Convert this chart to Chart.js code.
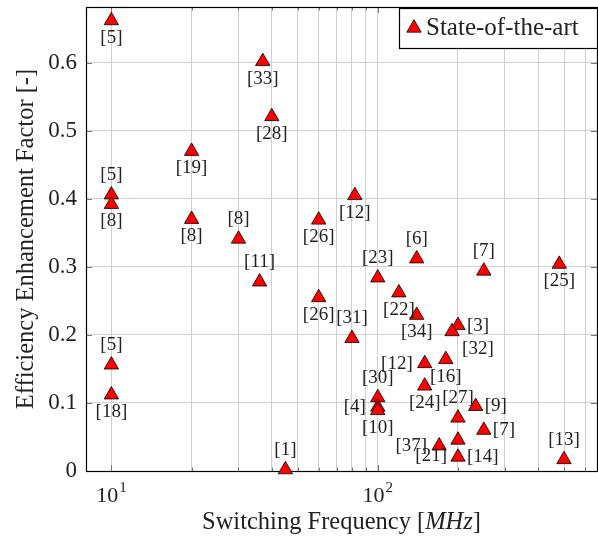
<!DOCTYPE html>
<html>
<head>
<meta charset="utf-8">
<script src="https://cdn.jsdelivr.net/npm/chart.js@4.4.0/dist/chart.umd.min.js"></script>
<style>
  html, body { margin: 0; padding: 0; background: #fff; }
</style>
</head>
<body>
<canvas id="sotaChart" width="598" height="537"></canvas>
<script>
// switching frequency (MHz) and efficiency enhancement factor of each published design
const freqMHz = [10, 37, 40, 20, 10, 10, 20, 30, 60, 82, 36, 60, 10, 10, 45,
  80, 100, 140, 250, 480, 120, 140, 200, 190, 150, 180, 150, 100, 100, 100,
  200, 233, 250, 170, 200, 200, 500];
const enhancement = [0.662, 0.602, 0.521, 0.470, 0.406, 0.392, 0.370, 0.341, 0.369, 0.405,
  0.278, 0.255, 0.156, 0.112, 0.002, 0.195, 0.284, 0.312, 0.294, 0.304, 0.262, 0.229,
  0.214, 0.205, 0.158, 0.164, 0.125, 0.108, 0.094, 0.089, 0.078, 0.095, 0.060, 0.037,
  0.0455, 0.0206, 0.0169];
// citation number printed next to each marker
const refNumbers = [5, 33, 28, 19, 5, 8, 8, 8, 26, 12, 11, 26, 5, 18, 1, 31, 23, 6, 7, 25,
  22, 34, 3, 32, 12, 16, 24, 30, 4, 10, 27, 9, 7, 37, 21, 14, 13];
// side of the marker the citation goes on: a=above b=below l=left r=right
const tagSide = ['b', 'b', 'b', 'b', 'a', 'b', 'b', 'a', 'b', 'b', 'a', 'b', 'a', 'b', 'a',
  'a', 'a', 'a', 'a', 'b', 'b', 'b', 'r', 'br', 'l', 'b', 'b', 'a', 'l', 'b',
  'a', 'r', 'r', 'l', 'bl', 'r', 'a'];

const xTickValues = [10, 20, 30, 40, 50, 60, 70, 80, 90, 100, 200, 300, 400, 500, 600];
const xMajorLabels = { 10: '1', 100: '2' };
const yTickValues = [0, 0.1, 0.2, 0.3, 0.4, 0.5, 0.6];

const seriesName = 'State-of-the-art';
const xTitle = ['Switching Frequency [', 'MHz', ']'];
const yTitle = 'Efficiency Enhancement Factor [-]';

const serif = '"Liberation Serif", "Times New Roman", serif';

function triangle(ctx, cx, cy, r) {
  ctx.beginPath();
  ctx.moveTo(cx, cy - r);
  ctx.lineTo(cx + r * Math.sin(Math.PI / 3), cy + r / 2);
  ctx.lineTo(cx - r * Math.sin(Math.PI / 3), cy + r / 2);
  ctx.closePath();
  ctx.fill();
  ctx.stroke();
}

function noPad(s) {
  s.paddingTop = 0; s.paddingBottom = 0; s.paddingLeft = 0; s.paddingRight = 0;
}

const decor = {
  id: 'decor',
  beforeDatasetsDraw(chart) {
    const { ctx, chartArea: a, scales: { x, y } } = chart;
    ctx.save();
    ctx.strokeStyle = '#777';
    ctx.lineWidth = 1;
    ctx.beginPath();
    x.ticks.forEach(t => {
      const px = Math.round(x.getPixelForValue(t.value)) + 0.5;
      const len = t.major ? 6 : 3.5;
      ctx.moveTo(px, a.bottom); ctx.lineTo(px, a.bottom - len);
      ctx.moveTo(px, a.top); ctx.lineTo(px, a.top + len);
    });
    y.ticks.forEach(t => {
      const py = Math.round(y.getPixelForValue(t.value)) + 0.5;
      ctx.moveTo(a.left, py); ctx.lineTo(a.left + 6, py);
      ctx.moveTo(a.right, py); ctx.lineTo(a.right - 6, py);
    });
    ctx.stroke();
    ctx.strokeStyle = '#000';
    ctx.lineWidth = 1.2;
    ctx.strokeRect(a.left + 0.5, a.top + 0.5, a.right - a.left, a.bottom - a.top);
    ctx.restore();
  },
  afterDatasetsDraw(chart) {
    const { ctx } = chart;
    const meta = chart.getDatasetMeta(0);
    const fs = 19;
    ctx.save();
    ctx.font = fs + 'px ' + serif;
    ctx.fillStyle = '#222';
    ctx.textBaseline = 'alphabetic';
    meta.data.forEach((p, i) => {
      const txt = '[' + refNumbers[i] + ']';
      const w = ctx.measureText(txt).width;
      const side = tagSide[i];
      let cx = p.x, cy = p.y;
      if (side === 'a') cy -= 20;
      else if (side === 'b') cy += 17;
      else if (side === 'l') cx -= 12 + w / 2;
      else if (side === 'r') cx += 9 + w / 2;
      else if (side === 'bl') { cx -= 11 + w / 2; cy += 16; }
      else if (side === 'br') { cx += 10 + w / 2; cy += 17; }
      ctx.textAlign = 'center';
      ctx.fillText(txt, cx, cy + fs * 0.27);
    });
    ctx.restore();
  },
  afterDraw(chart) {
    const { ctx, chartArea: a, scales: { x } } = chart;
    ctx.save();
    ctx.fillStyle = '#222';
    // x tick labels 10^n
    xTickValues.forEach(v => {
      const exp = xMajorLabels[v];
      if (!exp) return;
      const px = x.getPixelForValue(v);
      ctx.font = '22px ' + serif;
      const wb = ctx.measureText('10').width;
      ctx.font = '15px ' + serif;
      const we = ctx.measureText(exp).width;
      const left = px - (wb + we + 1) / 2;
      ctx.textAlign = 'left';
      ctx.textBaseline = 'alphabetic';
      ctx.font = '22px ' + serif;
      ctx.fillText('10', left, a.bottom + 31);
      ctx.font = '15px ' + serif;
      ctx.fillText(exp, left + wb + 1, a.bottom + 21);
    });
    // x axis title with italic unit
    const tf = '24.5px ';
    const parts = [[xTitle[0], ''], [xTitle[1], 'italic '], [xTitle[2], '']];
    let total = 0;
    parts.forEach(pt => { ctx.font = pt[1] + tf + serif; total += ctx.measureText(pt[0]).width; });
    let xx = (a.left + a.right) / 2 - total / 2;
    ctx.textAlign = 'left';
    parts.forEach(pt => {
      ctx.font = pt[1] + tf + serif;
      ctx.fillText(pt[0], xx, 529);
      xx += ctx.measureText(pt[0]).width;
    });
    // y axis title
    ctx.save();
    ctx.translate(33, (a.top + a.bottom) / 2);
    ctx.rotate(-Math.PI / 2);
    ctx.textAlign = 'center';
    ctx.font = tf + serif;
    ctx.fillText(yTitle, 0, 0);
    ctx.restore();
    // legend box in the top right corner
    const lx = 399.5, ly = 8.5, lw = a.right - lx + 0.5, lh = 40;
    ctx.fillStyle = '#fff';
    ctx.fillRect(lx, ly, lw, lh);
    ctx.strokeStyle = '#000';
    ctx.lineWidth = 1.2;
    ctx.strokeRect(lx, ly, lw, lh);
    ctx.fillStyle = '#ff0000';
    ctx.lineWidth = 0.8;
    triangle(ctx, 414, 28, 8.3);
    ctx.fillStyle = '#222';
    ctx.font = '25px ' + serif;
    ctx.textAlign = 'left';
    ctx.fillText(seriesName, 426, 35);
    ctx.restore();
  }
};

new Chart(document.getElementById('sotaChart'), {
  type: 'scatter',
  data: {
    datasets: [{
      label: seriesName,
      data: freqMHz.map((f, i) => ({ x: f, y: enhancement[i] })),
      pointStyle: 'triangle',
      pointRadius: 8.3,
      pointHoverRadius: 8.3,
      backgroundColor: '#ff0000',
      borderColor: '#000',
      borderWidth: 0.8,
      clip: false
    }]
  },
  options: {
    responsive: false,
    animation: false,
    events: [],
    layout: { autoPadding: false, padding: { top: 7, right: 1, left: 0, bottom: 0 } },
    plugins: { legend: { display: false }, tooltip: { enabled: false } },
    scales: {
      x: {
        type: 'logarithmic',
        min: 8.03,
        max: 665,
        afterBuildTicks: s => { s.ticks = xTickValues.map(v => ({ value: v, major: v === 10 || v === 100 })); },
        afterFit: s => { s.height = 66; noPad(s); },
        ticks: { display: false },
        grid: { color: '#d0d0d0', lineWidth: 1, drawTicks: false },
        border: { display: false }
      },
      y: {
        min: 0,
        max: 0.682,
        afterBuildTicks: s => { s.ticks = yTickValues.map(v => ({ value: v })); },
        afterFit: s => { s.width = 86; noPad(s); },
        ticks: {
          padding: 9,
          color: '#222',
          font: { family: serif, size: 23 },
          callback: v => v === 0 ? '0' : v.toFixed(1)
        },
        grid: { color: '#d0d0d0', lineWidth: 1, drawTicks: false },
        border: { display: false }
      }
    }
  },
  plugins: [decor]
});
</script>
</body>
</html>
